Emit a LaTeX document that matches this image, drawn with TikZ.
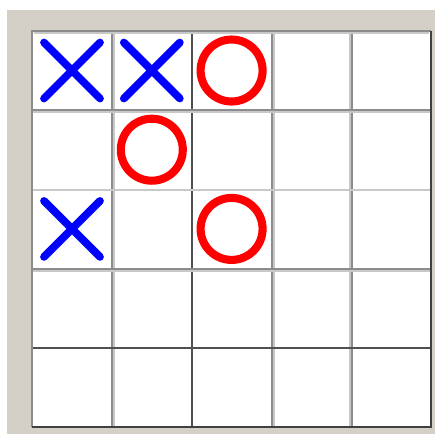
\documentclass[tikz,border=0pt]{standalone}
\usepackage{tikz}

\definecolor{panelgray}{HTML}{D4D0C8}
\definecolor{lineB}{HTML}{8C8C8C}
\definecolor{lineD}{HTML}{505050}
\definecolor{lineL}{HTML}{C8C8C8}
\definecolor{lineX}{HTML}{404040}

\begin{document}
\begin{tikzpicture}[x=0.02cm, y=-0.02cm,
  gridline/.style={line width=1.2pt},
  cross/.style={draw=blue, line width=4.4pt, line cap=round},
  ring/.style={draw=red, line width=4.6pt}]

  \useasboundingbox (0,0) rectangle (435,434);
  \fill[white] (0,0) rectangle (435,434);
  \fill[panelgray] (7,10) rectangle (435,434);
  \fill[white] (32,31) rectangle (431,427);

  % inner grid lines (with light shade)
  \foreach \x/\c/\s in {112/lineB/2, 192/lineD/0, 272/lineB/2, 352/lineB/-2} {
    \draw[gridline, lineL] (\x+\s,31) -- (\x+\s,427);
    \draw[gridline, \c] (\x,31) -- (\x,427);
  }
  \foreach \y/\c/\s in {110/lineB/2, 190/lineL/0, 269/lineB/2, 348/lineD/0} {
    \draw[gridline, lineL] (32,\y+\s) -- (431,\y+\s);
    \draw[gridline, \c] (32,\y) -- (431,\y);
  }

  % outer frame
  \draw[gridline, lineL] (34,33) -- (429,33);
  \draw[gridline, lineB] (32,427) -- (32,31) -- (431,31);
  \draw[gridline, lineX] (431,31) -- (431,427) -- (32,427);

  % cell centres
  \foreach \i in {0,...,4} {
    \foreach \j in {0,...,4} {
      \coordinate (c\i\j) at ({72+79.8*\i},{70.5+79.2*\j});
    }
  }

  % moves
  \foreach \p in {c00,c10,c02}
    \draw[cross] (\p) ++(-28,-28) -- ++(56,56)
                 (\p) ++(28,-28) -- ++(-56,56);
  \foreach \p in {c20,c11,c22}
    \draw[ring] (\p) circle[radius=31];
\end{tikzpicture}
\end{document}
